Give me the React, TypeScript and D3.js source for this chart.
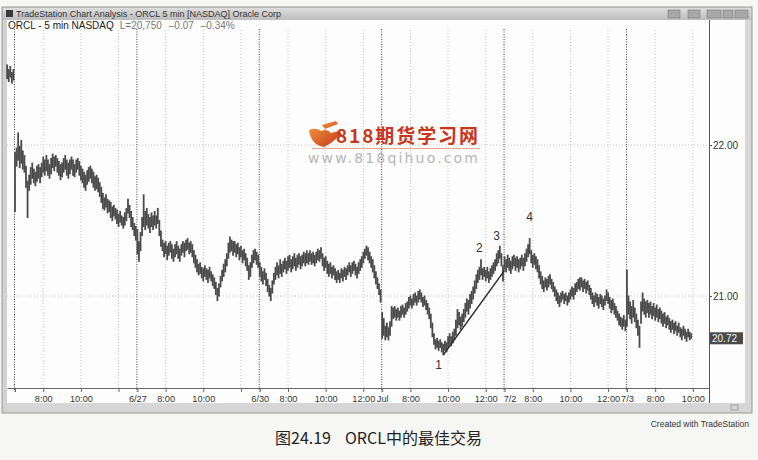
"use client";

import React, { useRef, useEffect } from "react";
import * as d3 from "d3";

// 5 min bars, session 6:30 - 13:00 (78 bars a day)
const BARS_PER_DAY = 78;
const SESSION_OPEN = 6.5;

const jun25Lo = [22.44, 22.42, 22.45, 22.41, 22.43];
const jun25Hi = [22.53, 22.5, 22.52, 22.48, 22.5];

const jun26Lo = [
  21.56, 21.86, 21.9, 21.85, 21.88, 21.84, 21.82, 21.72, 21.52, 21.7,
  21.74, 21.78, 21.75, 21.73, 21.76, 21.78, 21.75, 21.79, 21.82, 21.8,
  21.83, 21.8, 21.78, 21.81, 21.85, 21.83, 21.86, 21.82, 21.8, 21.77,
  21.79, 21.82, 21.84, 21.8, 21.78, 21.81, 21.84, 21.8, 21.79, 21.82,
  21.84, 21.8, 21.77, 21.75, 21.72, 21.7, 21.74, 21.76, 21.78, 21.75,
  21.72, 21.7, 21.71, 21.69, 21.66, 21.62, 21.58, 21.57, 21.59, 21.55,
  21.56, 21.52, 21.5, 21.53, 21.51, 21.48, 21.46, 21.49, 21.47, 21.45,
  21.47, 21.5, 21.55, 21.52, 21.46, 21.44, 21.4, 21.37,
];
const jun26Hi = [
  21.95, 21.98, 22.08, 21.99, 22.03, 21.96, 21.93, 21.86, 21.76, 21.8,
  21.85, 21.88, 21.84, 21.82, 21.86, 21.87, 21.85, 21.88, 21.92, 21.9,
  21.93, 21.9, 21.87, 21.91, 21.94, 21.92, 21.93, 21.91, 21.89, 21.87,
  21.88, 21.91, 21.93, 21.9, 21.88, 21.9, 21.92, 21.9, 21.87, 21.9,
  21.91, 21.89, 21.86, 21.84, 21.82, 21.8, 21.83, 21.85, 21.86, 21.84,
  21.82, 21.79, 21.8, 21.78, 21.75, 21.72, 21.68, 21.65, 21.67, 21.64,
  21.63, 21.62, 21.59, 21.6, 21.58, 21.57, 21.54, 21.56, 21.53, 21.52,
  21.55, 21.58, 21.64, 21.6, 21.56, 21.52, 21.48, 21.46,
];

const jun27Lo = [
  21.28, 21.23, 21.3, 21.4, 21.46, 21.44, 21.47, 21.45, 21.42, 21.46,
  21.44, 21.47, 21.45, 21.48, 21.4, 21.33, 21.3, 21.26, 21.28, 21.24,
  21.27, 21.29, 21.25, 21.23, 21.26, 21.28, 21.25, 21.23, 21.27, 21.29,
  21.26, 21.3, 21.31, 21.28, 21.29, 21.26, 21.22, 21.19, 21.16, 21.14,
  21.15, 21.12, 21.1, 21.13, 21.11, 21.09, 21.12, 21.1, 21.07, 21.05,
  21.01, 20.97, 21.0, 21.06, 21.1, 21.13, 21.16, 21.2, 21.25, 21.29,
  21.3, 21.27, 21.29, 21.26, 21.28, 21.24, 21.26, 21.22, 21.24, 21.2,
  21.17, 21.11, 21.13, 21.19, 21.22, 21.24, 21.21, 21.19,
];
const jun27Hi = [
  21.44, 21.36, 21.42, 21.52, 21.67, 21.56, 21.58, 21.54, 21.52, 21.55,
  21.53, 21.56, 21.53, 21.58, 21.5, 21.43, 21.37, 21.35, 21.36, 21.33,
  21.35, 21.36, 21.34, 21.31, 21.34, 21.36, 21.33, 21.31, 21.34, 21.36,
  21.35, 21.37, 21.38, 21.35, 21.36, 21.34, 21.3, 21.27, 21.24, 21.21,
  21.22, 21.19, 21.18, 21.2, 21.18, 21.17, 21.19, 21.16, 21.14, 21.12,
  21.09, 21.05, 21.08, 21.13, 21.17, 21.21, 21.24, 21.28, 21.35, 21.39,
  21.37, 21.36, 21.36, 21.34, 21.35, 21.32, 21.33, 21.3, 21.31, 21.28,
  21.25, 21.2, 21.22, 21.27, 21.3, 21.31, 21.29, 21.27,
];

const jun30Lo = [
  21.13, 21.1, 21.08, 21.11, 21.07, 21.03, 21.0, 20.97, 21.02, 21.08,
  21.11, 21.14, 21.12, 21.15, 21.13, 21.16, 21.18, 21.15, 21.17, 21.19,
  21.16, 21.18, 21.2, 21.17, 21.19, 21.21, 21.18, 21.2, 21.22, 21.2,
  21.22, 21.21, 21.23, 21.21, 21.22, 21.2, 21.22, 21.24, 21.23, 21.25,
  21.2, 21.17, 21.19, 21.15, 21.13, 21.15, 21.12, 21.14, 21.11, 21.09,
  21.11, 21.09, 21.12, 21.1, 21.13, 21.11, 21.14, 21.16, 21.13, 21.15,
  21.17, 21.14, 21.12, 21.15, 21.17, 21.19, 21.22, 21.25, 21.27, 21.24,
  21.22, 21.19, 21.16, 21.12, 21.08, 21.05, 21.01, 20.96,
];
const jun30Hi = [
  21.22, 21.19, 21.16, 21.18, 21.15, 21.11, 21.07, 21.05, 21.1, 21.15,
  21.19, 21.22, 21.2, 21.24, 21.21, 21.23, 21.25, 21.23, 21.26, 21.27,
  21.24, 21.26, 21.28, 21.25, 21.27, 21.28, 21.26, 21.27, 21.29, 21.28,
  21.3, 21.28, 21.3, 21.28, 21.29, 21.27, 21.29, 21.31, 21.3, 21.32,
  21.28, 21.25, 21.26, 21.23, 21.21, 21.22, 21.19, 21.2, 21.18, 21.16,
  21.17, 21.15, 21.18, 21.17, 21.19, 21.18, 21.2, 21.22, 21.2, 21.22,
  21.23, 21.21, 21.19, 21.22, 21.24, 21.26, 21.29, 21.31, 21.33, 21.32,
  21.29, 21.26, 21.24, 21.2, 21.16, 21.12, 21.08, 21.04,
];

const jul1Lo = [
  20.72, 20.74, 20.71, 20.73, 20.71, 20.74, 20.8, 20.85, 20.86, 20.84,
  20.86, 20.84, 20.86, 20.88, 20.86, 20.88, 20.9, 20.92, 20.94, 20.92,
  20.94, 20.96, 20.94, 20.96, 20.98, 20.96, 20.93, 20.94, 20.91, 20.88,
  20.85, 20.79, 20.73, 20.68, 20.65, 20.66, 20.64, 20.66, 20.63, 20.61,
  20.64, 20.63, 20.66, 20.68, 20.67, 20.69, 20.71, 20.74, 20.79, 20.81,
  20.78, 20.8, 20.83, 20.86, 20.9, 20.88, 20.92, 20.95, 20.98, 21.02,
  21.05, 21.09, 21.11, 21.14, 21.11, 21.13, 21.1, 21.12, 21.09, 21.11,
  21.13, 21.15, 21.17, 21.2, 21.22, 21.25, 21.2, 21.1,
];
const jul1Hi = [
  20.89, 20.85, 20.8, 20.82, 20.79, 20.83, 20.93, 20.92, 20.93, 20.91,
  20.92, 20.9, 20.93, 20.94, 20.92, 20.95, 20.96, 20.99, 21.0, 20.98,
  21.01, 21.02, 21.0, 21.03, 21.04, 21.02, 20.99, 21.0, 20.97, 20.95,
  20.92, 20.88, 20.82, 20.75, 20.71, 20.72, 20.7, 20.71, 20.69, 20.68,
  20.7, 20.69, 20.73, 20.75, 20.73, 20.76, 20.78, 20.84, 20.91, 20.89,
  20.86, 20.88, 20.91, 20.95, 20.98, 20.97, 21.01, 21.03, 21.06, 21.1,
  21.14, 21.17, 21.19, 21.24, 21.18, 21.19, 21.17, 21.19, 21.16, 21.18,
  21.2, 21.22, 21.24, 21.28, 21.3, 21.33, 21.28, 21.2,
];

const jul2Lo = [
  21.18, 21.16, 21.19, 21.17, 21.15, 21.18, 21.2, 21.17, 21.19, 21.16,
  21.18, 21.2, 21.17, 21.2, 21.23, 21.26, 21.28, 21.22, 21.19, 21.21,
  21.18, 21.16, 21.12, 21.08, 21.05, 21.03, 21.06, 21.04, 21.06, 21.08,
  21.05, 21.03, 21.0, 20.97, 20.95, 20.93, 20.96, 20.98, 20.95, 20.97,
  20.94, 20.96, 20.98, 21.0, 20.98, 21.01, 21.03, 21.05, 21.04, 21.06,
  21.03, 21.05, 21.02, 21.04, 21.01, 20.98, 20.95, 20.93, 20.96, 20.94,
  20.92, 20.95, 20.93, 20.91, 20.94, 20.97, 20.95, 20.92, 20.89, 20.91,
  20.88, 20.86, 20.84, 20.81, 20.8, 20.78, 20.8, 20.77,
];
const jul2Hi = [
  21.26, 21.24, 21.27, 21.25, 21.23, 21.26, 21.27, 21.25, 21.26, 21.24,
  21.25, 21.27, 21.25, 21.28, 21.31, 21.34, 21.38, 21.3, 21.27, 21.28,
  21.26, 21.24, 21.2, 21.16, 21.13, 21.1, 21.12, 21.11, 21.13, 21.14,
  21.11, 21.09, 21.06, 21.04, 21.02, 21.0, 21.02, 21.03, 21.01, 21.02,
  21.0, 21.02, 21.04, 21.06, 21.05, 21.08, 21.09, 21.11, 21.12, 21.12,
  21.1, 21.11, 21.09, 21.1, 21.07, 21.05, 21.02, 21.0, 21.02, 21.01,
  20.99, 21.01, 21.0, 20.98, 21.0, 21.04, 21.02, 20.99, 20.97, 20.98,
  20.95, 20.93, 20.9, 20.88, 20.86, 20.85, 20.87, 20.84,
];

// 7/3 is a half day
const jul3Lo = [
  20.8, 20.88, 20.85, 20.82, 20.86, 20.83, 20.79, 20.74, 20.66, 20.82,
  20.9, 20.88, 20.86, 20.89, 20.86, 20.88, 20.85, 20.87, 20.84, 20.86,
  20.83, 20.85, 20.82, 20.8, 20.82, 20.79, 20.81, 20.78, 20.76, 20.78,
  20.75, 20.77, 20.74, 20.76, 20.73, 20.71, 20.74, 20.72, 20.7, 20.73,
  20.71, 20.72,
];
const jul3Hi = [
  21.17, 21.0, 20.96, 20.93, 20.97, 20.92, 20.88, 20.84, 20.8, 20.96,
  21.02, 20.98, 20.96, 20.97, 20.95, 20.96, 20.93, 20.95, 20.92, 20.94,
  20.91, 20.92, 20.9, 20.88, 20.89, 20.86, 20.87, 20.85, 20.83, 20.84,
  20.82, 20.83, 20.8, 20.82, 20.79, 20.78, 20.8, 20.78, 20.76, 20.78,
  20.76, 20.75,
];

const dayLabels = ["6/26", "6/27", "6/30", "Jul", "7/2", "7/3"];
const dayLows = [jun26Lo, jun27Lo, jun30Lo, jul1Lo, jul2Lo, jul3Lo];
const dayHighs = [jun26Hi, jun27Hi, jun30Hi, jul1Hi, jul2Hi, jul3Hi];

// [day, hour, label]
const hourTicks: [number, number, string][] = [
  [0, 8, "8:00"], [0, 10, "10:00"], [0, 12, ""],
  [1, 8, "8:00"], [1, 10, "10:00"], [1, 12, ""],
  [2, 8, "8:00"], [2, 10, "10:00"], [2, 12, "12:00"],
  [3, 8, "8:00"], [3, 10, "10:00"], [3, 12, "12:00"],
  [4, 8, "8:00"], [4, 10, "10:00"], [4, 12, "12:00"],
  [5, 8, "8:00"], [5, 10, "10:00"],
];

const priceTicks = [21, 22];
const lastPrice = 20.72;

// wave labels: [text, day, bar, price]
const waveLabels: [string, number, number, number][] = [
  ["1", 3, 36, 20.54],
  ["2", 3, 62, 21.32],
  ["3", 3, 73, 21.4],
  ["4", 4, 16, 21.52],
];
// trend line: [day, bar, price]
const trendPoints: [number, number, number][] = [
  [3, 39, 20.61],
  [4, 0, 21.17],
];

const titleText = "TradeStation Chart Analysis - ORCL 5 min [NASDAQ] Oracle Corp";
const headerParts = ["ORCL - 5 min NASDAQ", "L=20,750", "\u20130.07", "\u20130.34%"];

interface Bar {
  idx: number;
  lo: number;
  hi: number;
}

const App: React.FC = () => {
  const ref = useRef<SVGSVGElement | null>(null);

  useEffect(() => {
    document.body.style.margin = "0";
    if (!ref.current) return;
    const svg = d3.select(ref.current);
    svg.selectAll("*").remove();

    const W = 758;
    const H = 460;
    const plot = { left: 7, right: 709, top: 20, bottom: 388 };

    const barIdx = (day: number, bar: number) => day * BARS_PER_DAY + bar;

    const bars: Bar[] = [];
    jun25Lo.forEach((lo, i) =>
      bars.push({ idx: i - jun25Lo.length, lo, hi: jun25Hi[i] })
    );
    dayLows.forEach((lows, d) =>
      lows.forEach((lo, i) => bars.push({ idx: barIdx(d, i), lo, hi: dayHighs[d][i] }))
    );

    const x = d3.scaleLinear().domain([-5.1, 442.3]).range([plot.left, plot.right]);
    const y = d3.scaleLinear().domain([21, 22]).range([296, 145]);

    const font = "Arial, 'Liberation Sans', sans-serif";

    // page
    svg.append("rect").attr("width", W).attr("height", H).attr("fill", "#f6f6f5");

    // window frame
    svg.append("rect").attr("x", 2).attr("y", 7).attr("width", 750).attr("height", 406)
      .attr("fill", "#d2d2d2").attr("stroke", "#9a9a9a");

    const defs = svg.append("defs");
    const grad = defs.append("linearGradient")
      .attr("id", "title-grad").attr("x1", "0%").attr("y1", "0%").attr("x2", "0%").attr("y2", "100%");
    grad.append("stop").attr("offset", "0%").attr("stop-color", "#dedede");
    grad.append("stop").attr("offset", "100%").attr("stop-color", "#bdbdbd");

    svg.append("rect").attr("x", 3).attr("y", 8).attr("width", 748).attr("height", 12)
      .attr("fill", "url(#title-grad)");
    svg.append("rect").attr("x", 6).attr("y", 10).attr("width", 7).attr("height", 7).attr("fill", "#3a3a3a");
    svg.append("text").attr("x", 16).attr("y", 17).attr("font-family", font).attr("font-size", 9)
      .attr("fill", "#333").text(titleText);

    // title buttons
    [[668, 12], [688, 12], [707, 14], [723, 10], [735, 13]].forEach(([bx, bw]) => {
      svg.append("rect").attr("x", bx).attr("y", 10).attr("width", bw).attr("height", 8)
        .attr("fill", "#a8a8a8").attr("stroke", "#777").attr("stroke-width", 0.6);
    });

    // chart area
    svg.append("rect").attr("x", 7).attr("y", 20).attr("width", 738).attr("height", 383).attr("fill", "#fdfdfd");
    svg.append("rect").attr("x", 745).attr("y", 20).attr("width", 6).attr("height", 383).attr("fill", "#d8d8d8");
    svg.append("rect").attr("x", 7).attr("y", 403).attr("width", 744).attr("height", 9).attr("fill", "#d6d6d6");
    svg.append("rect").attr("x", 731).attr("y", 405).attr("width", 7).attr("height", 5)
      .attr("fill", "none").attr("stroke", "#888").attr("stroke-width", 0.7);

    // horizontal grid
    svg.append("g").selectAll("line").data(priceTicks).join("line")
      .attr("x1", plot.left).attr("x2", plot.right)
      .attr("y1", (d) => y(d)).attr("y2", (d) => y(d))
      .attr("stroke", "#c4c4c4").attr("stroke-dasharray", "1,2");

    // hour grid
    svg.append("g").selectAll("line").data(hourTicks).join("line")
      .attr("x1", (d) => x(barIdx(d[0], (d[1] - SESSION_OPEN) * 12)))
      .attr("x2", (d) => x(barIdx(d[0], (d[1] - SESSION_OPEN) * 12)))
      .attr("y1", plot.top + 10).attr("y2", plot.bottom)
      .attr("stroke", "#c4c4c4").attr("stroke-dasharray", "1,2");

    // day separators
    svg.append("g").selectAll("line").data(dayLabels).join("line")
      .attr("x1", (_, i) => x(barIdx(i, 0)) - 0.5)
      .attr("x2", (_, i) => x(barIdx(i, 0)) - 0.5)
      .attr("y1", plot.top + 9).attr("y2", plot.bottom + 4)
      .attr("stroke", "#444").attr("stroke-dasharray", "1,1.5");

    // header
    const header = svg.append("text").attr("x", 8).attr("y", 29)
      .attr("font-family", font).attr("font-size", 10);
    headerParts.forEach((t, i) => {
      header.append("tspan").attr("fill", i === 0 ? "#222" : "#777")
        .attr("dx", i === 0 ? 0 : i === 1 ? 6 : 7).text(t);
    });

    // bars
    svg.append("g").selectAll("line").data(bars).join("line")
      .attr("x1", (d) => x(d.idx)).attr("x2", (d) => x(d.idx))
      .attr("y1", (d) => y(d.lo) + 0.5).attr("y2", (d) => y(d.hi) - 0.5)
      .attr("stroke", "#4a4a4a").attr("stroke-width", 1.8);

    // trend line
    const trend = d3.line<[number, number, number]>()
      .x((d) => x(barIdx(d[0], d[1])))
      .y((d) => y(d[2]));
    svg.append("path").datum(trendPoints).attr("d", trend)
      .attr("fill", "none").attr("stroke", "#2a2a2a").attr("stroke-width", 1.5);

    svg.append("g").selectAll("text").data(waveLabels).join("text")
      .attr("x", (d) => x(barIdx(d[1], d[2])))
      .attr("y", (d) => y(d[3]))
      .attr("text-anchor", "middle").attr("dominant-baseline", "central")
      .attr("font-family", font).attr("font-size", 12).attr("fill", "#333")
      .text((d) => d[0]);

    // x axis
    const xTicks = [
      ...dayLabels.map((label, i) => ({ idx: barIdx(i, 0), label: i === 0 ? "" : label })),
      ...hourTicks.map((t) => ({ idx: barIdx(t[0], (t[1] - SESSION_OPEN) * 12), label: t[2] })),
    ];
    const xAxis = svg.append("g").attr("transform", `translate(0,${plot.bottom})`)
      .call(
        d3.axisBottom(x)
          .tickValues(xTicks.map((t) => t.idx))
          .tickFormat((_, i) => xTicks[i].label)
          .tickSize(4).tickPadding(3).tickSizeOuter(0)
      );
    xAxis.select(".domain").attr("stroke", "#666");
    xAxis.selectAll("line").attr("stroke", "#666");
    xAxis.selectAll("text").attr("font-family", font).attr("font-size", 9.2).attr("fill", "#333")
      .attr("dx", (_, i) => (xTicks[i].label === "7/2" ? 5 : 0));

    // y axis
    const yAxis = svg.append("g").attr("transform", `translate(${plot.right},0)`)
      .call(
        d3.axisRight(y).tickValues(priceTicks).tickFormat(d3.format(".2f"))
          .tickSize(3).tickPadding(1).tickSizeOuter(0)
      );
    yAxis.select(".domain").attr("d", `M0.5,${plot.top}V403`).attr("stroke", "#555");
    yAxis.selectAll("line").attr("stroke", "#555");
    yAxis.selectAll("text").attr("font-family", font).attr("font-size", 10).attr("fill", "#333");

    // last price box
    svg.append("rect").attr("x", plot.right + 1).attr("y", y(lastPrice) - 6)
      .attr("width", 33).attr("height", 12).attr("fill", "#4a4a4a");
    svg.append("text").attr("x", plot.right + 3).attr("y", y(lastPrice))
      .attr("dominant-baseline", "central").attr("font-family", font).attr("font-size", 10)
      .attr("fill", "#f4f4f4").text(d3.format(".2f")(lastPrice));

    // watermark
    const wm = svg.append("g");
    const hg = defs.append("linearGradient")
      .attr("id", "hand-grad").attr("x1", "0%").attr("y1", "0%").attr("x2", "100%").attr("y2", "100%");
    hg.append("stop").attr("offset", "0%").attr("stop-color", "#f2a040");
    hg.append("stop").attr("offset", "100%").attr("stop-color", "#c8321a");
    wm.append("path")
      .attr("d", "M309,130 Q311,145 324,147 L331,143 L337,138 L342,134 L339,131 L331,133 Q327,128 321,131 Q316,127 309,130 Z M322,125 L336,121 L338,124 L325,129 Z")
      .attr("fill", "url(#hand-grad)");
    wm.append("text").attr("x", 336).attr("y", 143)
      .attr("font-family", "'Noto Sans CJK SC', sans-serif").attr("font-weight", "bold")
      .attr("font-size", 19).attr("textLength", 142).attr("fill", "#c8361c")
      .text("818期货学习网");
    wm.append("line").attr("x1", 312).attr("x2", 480).attr("y1", 148.5).attr("y2", 148.5)
      .attr("stroke", "#e9a58a").attr("stroke-width", 1);
    wm.append("text").attr("x", 308).attr("y", 163)
      .attr("font-family", "'DejaVu Sans', sans-serif").attr("font-size", 14)
      .attr("textLength", 170).attr("fill", "#b6b6b6")
      .text("www.818qihuo.com");

    // footer
    svg.append("text").attr("x", 749).attr("y", 427).attr("text-anchor", "end")
      .attr("font-family", font).attr("font-size", 8.5).attr("fill", "#333")
      .text("Created with TradeStation");

    const cap = "'Noto Sans CJK SC', sans-serif";
    svg.append("text").attr("x", 275).attr("y", 444).attr("font-family", cap)
      .attr("font-size", 16).attr("fill", "#222").text("图24.19");
    svg.append("text").attr("x", 345).attr("y", 444).attr("font-family", cap)
      .attr("font-size", 16).attr("fill", "#222").text("ORCL中的最佳交易");
  }, []);

  return <svg ref={ref} width={758} height={460} style={{ display: "block" }}></svg>;
};

export default App;
